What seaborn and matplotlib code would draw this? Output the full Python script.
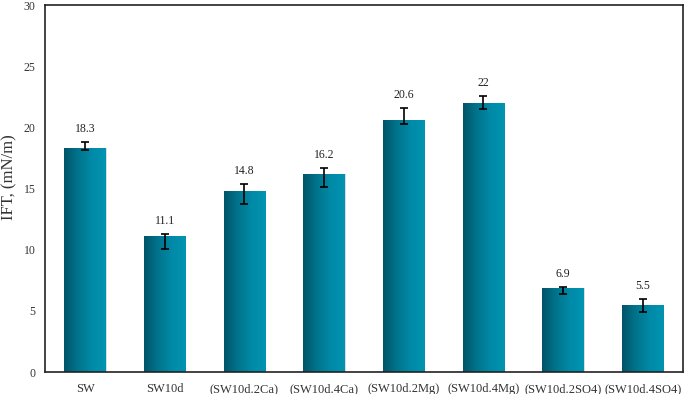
import numpy as np
import pandas as pd
import matplotlib
matplotlib.use("Agg")
import matplotlib.pyplot as plt
import seaborn as sns
from matplotlib.colors import LinearSegmentedColormap

categories = ["SW", "SW10d", "(SW10d.2Ca)", "(SW10d.4Ca)", "(SW10d.2Mg)",
              "(SW10d.4Mg)", "(SW10d.2SO4)", "(SW10d.4SO4)"]
ift = [18.3, 11.1, 14.8, 16.2, 20.6, 22.0, 6.9, 5.5]
labels = ["18.3", "11.1", "14.8", "16.2", "20.6", "22", "6.9", "5.5"]
err_low = [0.12, 1.07, 1.04, 1.07, 0.30, 0.52, 0.55, 0.59]
err_high = [0.51, 0.16, 0.60, 0.50, 1.01, 0.54, 0.05, 0.44]

sns.set_theme(style="white")
plt.rcParams["font.family"] = ["Liberation Serif", "DejaVu Serif"]

fig = plt.figure(figsize=(6.85, 3.94), dpi=100)
ax = fig.add_axes([0.0661, 0.0558, 0.9303, 0.9315])

df = pd.DataFrame({"cat": categories, "ift": ift})
sns.barplot(data=df, x="cat", y="ift", color="#007f99", width=0.52,
            errorbar=None, ax=ax, saturation=1)

cmap = LinearSegmentedColormap.from_list("teal", ["#005469", "#00748c", "#008aa7", "#0094b2"])
grad = np.linspace(0, 1, 256).reshape(1, -1)
centers = []
for p in ax.patches:
    x0, w, h = p.get_x(), p.get_width(), p.get_height()
    centers.append(x0 + w / 2)
    p.set_facecolor("none")
    p.set_edgecolor("#cfd8da")
    p.set_linewidth(0.6)
    im = ax.imshow(grad, cmap=cmap, aspect="auto", extent=[x0, x0 + w, 0, h],
                   zorder=2, interpolation="bicubic")
    im.set_clip_path(p)

ax.errorbar(centers, ift, yerr=[err_low, err_high], fmt="none", ecolor="black",
            elinewidth=1.2, capsize=3, capthick=1.2, zorder=4)

for c, v, eh, lab in zip(centers, ift, err_high, labels):
    ax.annotate(lab, (c, v + eh), xytext=(0, 5), textcoords="offset points",
                ha="center", va="bottom", fontsize=8.5, color="#222222")

ax.set_xlim(-0.5, 7.5)
ax.set_ylim(0, 30)
ax.set_yticks(range(0, 31, 5))
ax.set_xlabel("")
ax.set_ylabel("IFT, (mN/m)", fontsize=12, color="#333333", va="center")
ax.yaxis.set_label_coords(-0.056, 0.53)
ax.tick_params(axis="both", length=0, labelsize=8.5, colors="#333333")
ax.tick_params(axis="x", pad=8, labelsize=9)
ax.tick_params(axis="y", pad=7)
for s in ax.spines.values():
    s.set_visible(True)
    s.set_color("#222222")
    s.set_linewidth(1.2)

fig.savefig("out.png", dpi=100)
